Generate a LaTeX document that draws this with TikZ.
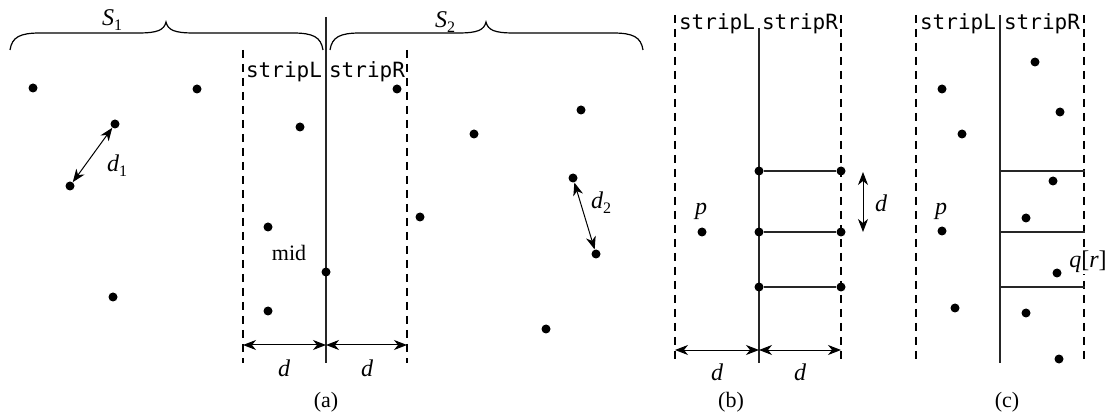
\documentclass[tikz,border=0pt]{standalone}
\usepackage{fontspec}
\setmainfont{Liberation Serif}
\setmonofont{DejaVu Sans Mono}
\usetikzlibrary{arrows.meta}
\newcommand\mysub[1]{\raisebox{-0.45ex}{\fontsize{16}{16}\selectfont\upshape #1}}
\begin{document}
\begin{tikzpicture}[x=1pt,y=-1pt,
  dot/.style={circle,fill=black,inner sep=0pt,minimum size=9pt},
  lbl/.style={font=\fontsize{22}{24}\selectfont, inner sep=0pt},
  ilbl/.style={font=\fontsize{24}{26}\selectfont\itshape, inner sep=0pt},
  mono/.style={font=\fontsize{21}{23}\selectfont\ttfamily, inner sep=0pt},
  dashln/.style={line width=1.2pt, dash pattern=on 8pt off 6pt},
  solidln/.style={line width=1.3pt, black!85},
  dimarr/.style={{Stealth[length=13pt,width=10pt,inset=4pt]}-{Stealth[length=13pt,width=10pt,inset=4pt]}, line width=1pt},
  bracestyle/.style={line width=1.2pt}
]
\useasboundingbox (0,0) rectangle (1105,419);

% ---------------- panel (a) ----------------
\coordinate (aMT) at (326,17);
\coordinate (aMB) at (326,363);
\coordinate (aLT) at (243,50);
\coordinate (aLB) at (243,363);
\coordinate (aRT) at (407,50);
\coordinate (aRB) at (407,363);
\coordinate (aLd) at (243,345);
\coordinate (aMd) at (326,345);
\coordinate (aRd) at (407,345);

\draw[solidln] (aMT) -- (aMB);
\draw[dashln] (aLT) -- (aLB);
\draw[dashln] (aRT) -- (aRB);

% braces
\draw[bracestyle] (10,50) .. controls (12,37) and (20,33) .. (40,33) -- (138,33)
  .. controls (158,33) and (164,30) .. (166,22)
  .. controls (168,30) and (174,33) .. (194,33) -- (293,33)
  .. controls (313,33) and (321,37) .. (323,50);
\draw[bracestyle] (330,50) .. controls (332,37) and (340,33) .. (360,33) -- (458,33)
  .. controls (478,33) and (484,30) .. (486,22)
  .. controls (488,30) and (494,33) .. (514,33) -- (613,33)
  .. controls (633,33) and (641,37) .. (643,50);
\node[ilbl] (S1) at (112,20) {S\mysub{1}};
\node[ilbl] (S2) at (445,22) {S\mysub{2}};

\node[mono] (aStripL) at (284,72) {stripL};
\node[mono] (aStripR) at (367,72) {stripR};

\node[dot] (a1) at (33,88) {};
\node[dot] (a2) at (197,89) {};
\node[dot] (a3) at (115,124) {};
\node[dot] (a4) at (300,127) {};
\node[dot] (a5) at (70,186) {};
\node[dot] (a6) at (113,297) {};
\node[dot] (a7) at (397,89) {};
\node[dot] (a8) at (581,110) {};
\node[dot] (a9) at (474,134) {};
\node[dot] (a10) at (573,178) {};
\node[dot] (a11) at (596,254) {};
\node[dot] (a12) at (546,329) {};
\node[dot] (a13) at (268,227) {};
\node[dot] (a14) at (326,272) {};
\node[dot] (a15) at (268,311) {};
\node[dot] (a16) at (420,217) {};

\draw[dimarr] (a5) -- (a3);
\draw[dimarr] (a10) -- (a11);
\node[ilbl] (d1) at (117,166) {d\mysub{1}};
\node[ilbl] (d2) at (601,203) {d\mysub{2}};
\node[lbl] (mid) at (289,253) {mid};

\draw[dimarr] (aLd) -- (aMd);
\draw[dimarr] (aMd) -- (aRd);
\node[ilbl] (ad1) at (284,368) {d};
\node[ilbl] (ad2) at (367,368) {d};
\node[lbl] (capa) at (326,402) {(a)};

% ---------------- panel (b) ----------------
\coordinate (bLT) at (675,15);
\coordinate (bLB) at (675,362);
\coordinate (bMT) at (759,28);
\coordinate (bMB) at (759,363);
\coordinate (bRT) at (841,15);
\coordinate (bRB) at (841,362);
\coordinate (bLd) at (675,350);
\coordinate (bMd) at (759,350);
\coordinate (bRd) at (841,350);

\draw[dashln] (bLT) -- (bLB);
\draw[dashln] (bRT) -- (bRB);
\draw[solidln] (bMT) -- (bMB);
\node[mono] (bStripL) at (717,24) {stripL};
\node[mono] (bStripR) at (800,24) {stripR};

\node[dot] (b1) at (759,171) {};
\node[dot] (b2) at (841,171) {};
\node[dot] (b3) at (759,232) {};
\node[dot] (b4) at (841,232) {};
\node[dot] (b5) at (759,287) {};
\node[dot] (b6) at (841,287) {};
\node[dot] (bp) at (702,232) {};
\node[ilbl] (bpl) at (701,211) {p};

\draw[solidln] (b1) -- (b2);
\draw[solidln] (b3) -- (b4);
\draw[solidln] (b5) -- (b6);

\coordinate (bvT) at (863,172);
\coordinate (bvB) at (863,232);
\draw[dimarr] (bvT) -- (bvB);
\node[ilbl] (bvd) at (881,203) {d};

\draw[dimarr] (bLd) -- (bMd);
\draw[dimarr] (bMd) -- (bRd);
\node[ilbl] (bd1) at (717,372) {d};
\node[ilbl] (bd2) at (800,372) {d};
\node[lbl] (capb) at (731,402) {(b)};

% ---------------- panel (c) ----------------
\coordinate (cLT) at (916,15);
\coordinate (cLB) at (916,362);
\coordinate (cMT) at (1000,15);
\coordinate (cMB) at (1000,363);
\coordinate (cRT) at (1084,15);
\coordinate (cRB) at (1084,362);

\draw[dashln] (cLT) -- (cLB);
\draw[dashln] (cRT) -- (cRB);
\draw[solidln] (cMT) -- (cMB);
\node[mono] (cStripL) at (958,24) {stripL};
\node[mono] (cStripR) at (1042,24) {stripR};

\coordinate (ch1a) at (1000,171); \coordinate (ch1b) at (1085,171);
\coordinate (ch2a) at (1000,232); \coordinate (ch2b) at (1085,232);
\coordinate (ch3a) at (1000,287); \coordinate (ch3b) at (1085,287);
\draw[solidln] (ch1a) -- (ch1b);
\draw[solidln] (ch2a) -- (ch2b);
\draw[solidln] (ch3a) -- (ch3b);

\node[dot] (c1) at (1035,62) {};
\node[dot] (c2) at (942,89) {};
\node[dot] (c3) at (1060,112) {};
\node[dot] (c4) at (962,134) {};
\node[dot] (c5) at (1053,181) {};
\node[dot] (c6) at (1026,218) {};
\node[dot] (c7) at (942,231) {};
\node[dot] (c8) at (1057,273) {};
\node[dot] (c9) at (955,308) {};
\node[dot] (c10) at (1026,313) {};
\node[dot] (c11) at (1059,359) {};
\node[ilbl] (cpl) at (941,211) {p};
\node[ilbl, fill=white, inner sep=1pt] (cq) at (1088,262) {q\upshape[\itshape r\upshape]};
\node[lbl] (capc) at (1007,402) {(c)};
\end{tikzpicture}
\end{document}
